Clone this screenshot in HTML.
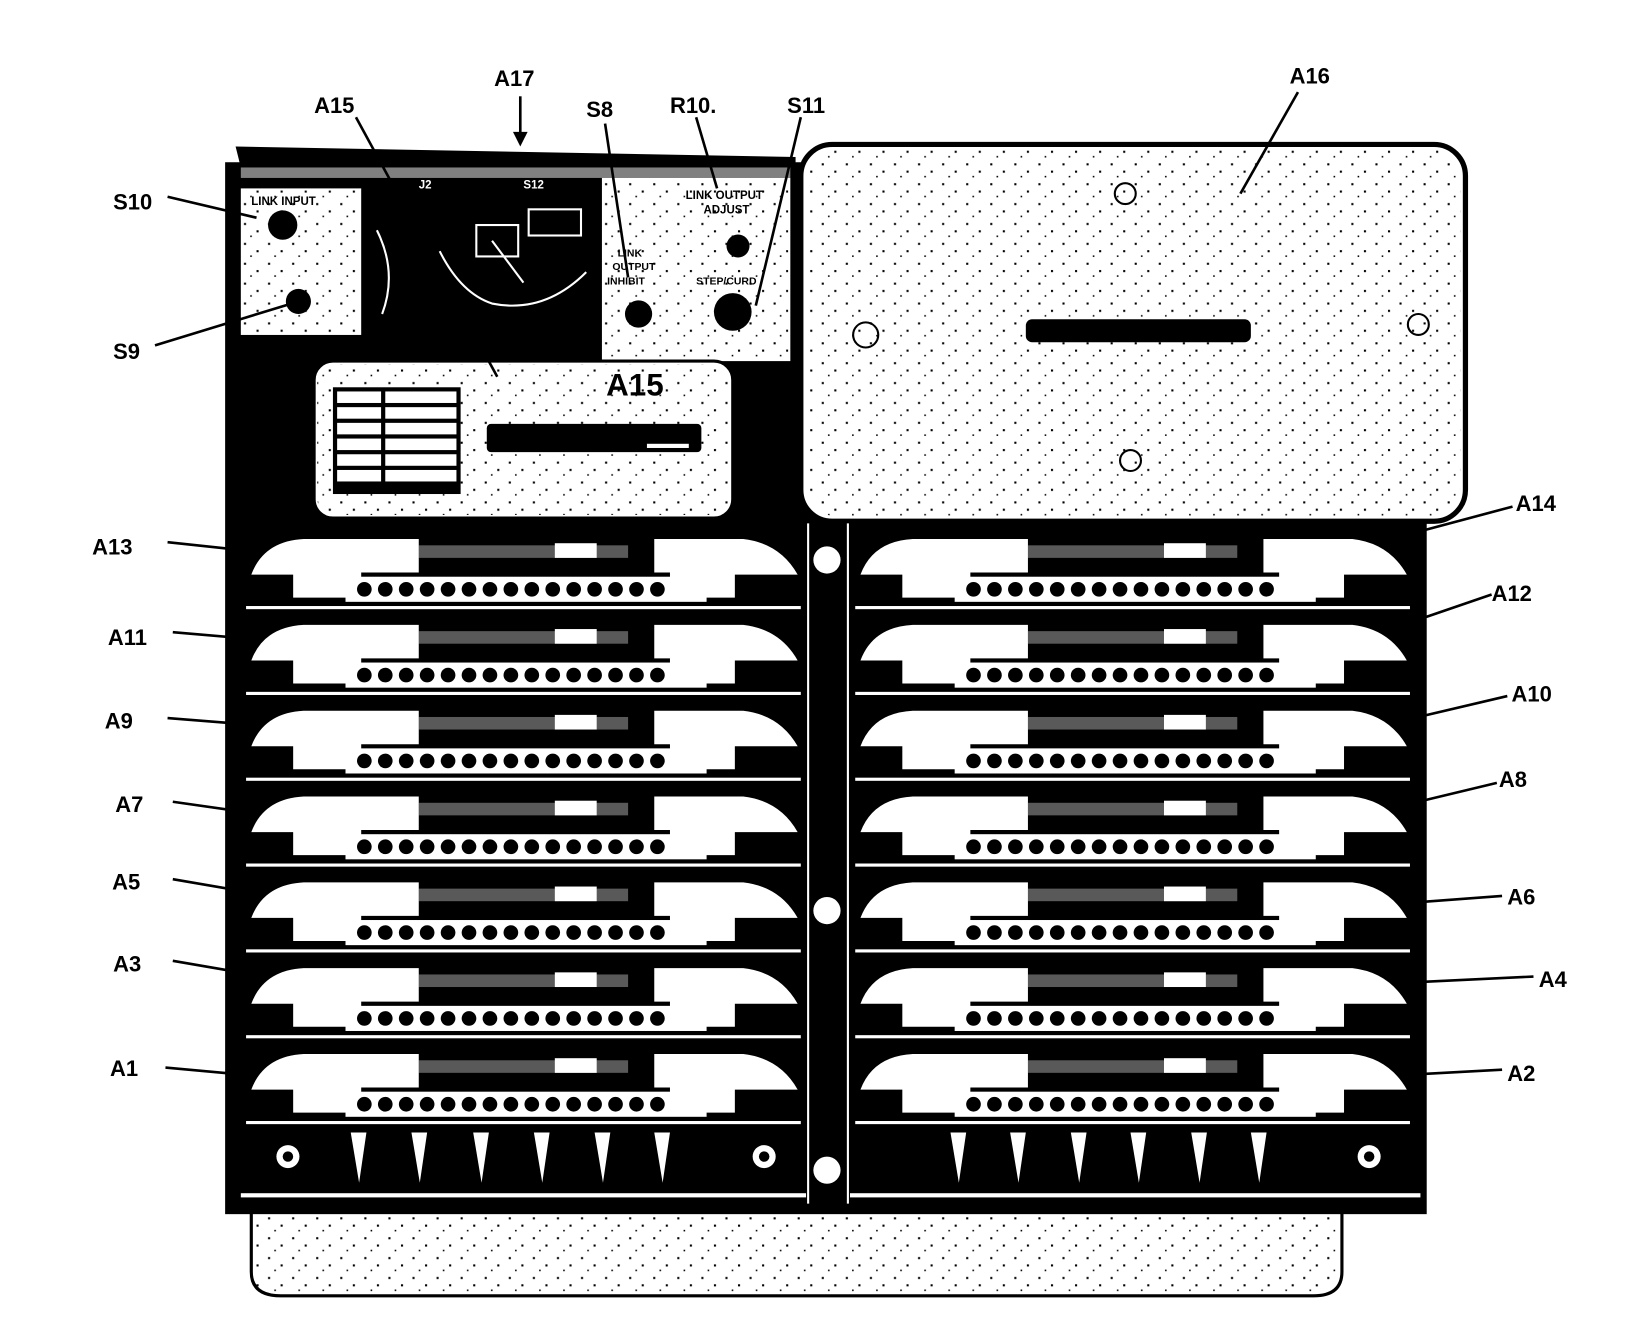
<!DOCTYPE html>
<html><head><meta charset="utf-8"><style>
html,body{margin:0;padding:0;background:#fff;}
svg{display:block;}
text{font-family:"Liberation Sans",sans-serif;font-weight:bold;fill:#000;}
</style></head><body>
<svg width="1633" height="1323" viewBox="0 0 1560 1264" xmlns="http://www.w3.org/2000/svg">
<defs>
<pattern id="dots" width="23" height="19" patternUnits="userSpaceOnUse">
<rect x="3" y="4" width="2" height="2" fill="#000"/><rect x="15" y="11" width="2" height="2" fill="#000"/><rect x="9" y="16" width="1.5" height="1.5" fill="#000"/>
</pattern>
<g id="row">
<rect x="0" y="0" width="540" height="82" fill="#000"/>
<path d="M10,44 Q22,12 60,10 L170,10 L170,42 L115,42 L115,66 L50,66 L50,44 Z" fill="#fff"/>
<path d="M395,10 L480,10 Q515,14 532,44 L472,44 L472,66 L410,66 L410,42 L395,42 Z" fill="#fff"/>
<rect x="100" y="46" width="345" height="24" fill="#fff"/>
<rect x="170" y="16" width="200" height="12" fill="#fff" opacity="0.35"/>
<rect x="300" y="14" width="40" height="14" fill="#fff"/>
<g fill="#000">
<circle cx="118" cy="58" r="7"/><circle cx="138" cy="58" r="7"/><circle cx="158" cy="58" r="7"/><circle cx="178" cy="58" r="7"/><circle cx="198" cy="58" r="7"/><circle cx="218" cy="58" r="7"/><circle cx="238" cy="58" r="7"/><circle cx="258" cy="58" r="7"/><circle cx="278" cy="58" r="7"/><circle cx="298" cy="58" r="7"/><circle cx="318" cy="58" r="7"/><circle cx="338" cy="58" r="7"/><circle cx="358" cy="58" r="7"/><circle cx="378" cy="58" r="7"/><circle cx="398" cy="58" r="7"/>
</g>
<rect x="5" y="74" width="530" height="3" fill="#fff"/>
</g>
</defs>

<path d="M240,1158 L1282,1158 L1282,1215 Q1282,1238 1255,1238 L268,1238 Q240,1238 240,1215 Z" fill="#fff" stroke="#000" stroke-width="3"/>
<rect x="243" y="1160" width="1036" height="76" fill="url(#dots)"/>

<rect x="215" y="155" width="1148" height="1005" fill="#000"/>
<path d="M225,140 L760,150 L760,160 L230,160 Z" fill="#000"/>

<rect x="765" y="138" width="635" height="360" rx="30" fill="#fff" stroke="#000" stroke-width="5"/>
<rect x="770" y="143" width="625" height="350" rx="28" fill="url(#dots)"/>
<rect x="980" y="305" width="215" height="22" rx="6" fill="#000"/>
<circle cx="827" cy="320" r="12" fill="none" stroke="#000" stroke-width="2"/>
<circle cx="1355" cy="310" r="10" fill="none" stroke="#000" stroke-width="2"/>
<circle cx="1075" cy="185" r="10" fill="none" stroke="#000" stroke-width="2"/>
<circle cx="1080" cy="440" r="10" fill="none" stroke="#000" stroke-width="2"/>

<rect x="230" y="180" width="115" height="140" fill="#fff"/>
<rect x="232" y="182" width="111" height="136" fill="url(#dots)"/>
<text x="240" y="196" font-size="11">LINK INPUT</text>
<circle cx="270" cy="215" r="14" fill="#000"/>
<circle cx="285" cy="288" r="12" fill="#000"/>
<rect x="575" y="170" width="180" height="175" fill="#fff"/>
<rect x="577" y="172" width="176" height="171" fill="url(#dots)"/>
<text x="655" y="190" font-size="11">LINK OUTPUT</text>
<text x="672" y="204" font-size="11">ADJUST</text>
<text x="590" y="245" font-size="10">LINK</text>
<text x="585" y="258" font-size="10">OUTPUT</text>
<text x="580" y="272" font-size="10">INHIBIT</text>
<text x="665" y="272" font-size="10">STEP/CURD</text>
<circle cx="705" cy="235" r="11" fill="#000"/>
<circle cx="610" cy="300" r="13" fill="#000"/>
<circle cx="700" cy="298" r="18" fill="#000"/>
<rect x="230" y="160" width="525" height="10" fill="#fff" opacity="0.5"/>
<text x="400" y="180" font-size="11" style="fill:#fff">J2</text>
<text x="500" y="180" font-size="11" style="fill:#fff">S12</text>
<text x="630" y="180" font-size="11" style="fill:#fff">C7</text>
<g stroke="#fff" stroke-width="2" fill="none">
<path d="M360,220 Q380,260 365,300"/><path d="M420,240 Q440,280 470,290 Q520,300 560,260"/><path d="M470,230 L500,270"/>
<rect x="455" y="215" width="40" height="30"/><rect x="505" y="200" width="50" height="25"/>
</g>

<rect x="300" y="345" width="400" height="150" rx="18" fill="#fff" stroke="#000" stroke-width="3"/>
<rect x="303" y="348" width="394" height="144" rx="16" fill="url(#dots)"/>
<rect x="318" y="370" width="122" height="102" fill="#000"/>
<g fill="#fff"><rect x="322" y="374" width="42" height="11"/><rect x="368" y="374" width="68" height="11"/>
<rect x="322" y="389" width="42" height="11"/><rect x="368" y="389" width="68" height="11"/>
<rect x="322" y="404" width="42" height="11"/><rect x="368" y="404" width="68" height="11"/>
<rect x="322" y="419" width="42" height="11"/><rect x="368" y="419" width="68" height="11"/>
<rect x="322" y="434" width="42" height="11"/><rect x="368" y="434" width="68" height="11"/>
<rect x="322" y="449" width="42" height="11"/><rect x="368" y="449" width="68" height="11"/></g>
<text x="579" y="378" font-size="30">A15</text>
<rect x="465" y="405" width="205" height="27" rx="4" fill="#000"/>
<rect x="618" y="424" width="40" height="4" fill="#fff"/>

<use href="#row" x="230" y="505"/>
<use href="#row" x="230" y="587"/>
<use href="#row" x="230" y="669"/>
<use href="#row" x="230" y="751"/>
<use href="#row" x="230" y="833"/>
<use href="#row" x="230" y="915"/>
<use href="#row" x="230" y="997"/>
<use href="#row" x="812" y="505"/>
<use href="#row" x="812" y="587"/>
<use href="#row" x="812" y="669"/>
<use href="#row" x="812" y="751"/>
<use href="#row" x="812" y="833"/>
<use href="#row" x="812" y="915"/>
<use href="#row" x="812" y="997"/>

<rect x="775" y="500" width="32" height="650" fill="#000"/>
<line x1="772" y1="500" x2="772" y2="1150" stroke="#fff" stroke-width="2"/>
<line x1="810" y1="500" x2="810" y2="1150" stroke="#fff" stroke-width="2"/>
<circle cx="790" cy="535" r="13" fill="#fff"/>
<circle cx="790" cy="870" r="13" fill="#fff"/>
<circle cx="790" cy="1118" r="13" fill="#fff"/>

<g fill="#fff">
<path d="M335,1082 L350,1082 L343,1130 Z"/><path d="M393,1082 L408,1082 L401,1130 Z"/><path d="M452,1082 L467,1082 L460,1130 Z"/><path d="M510,1082 L525,1082 L518,1130 Z"/><path d="M568,1082 L583,1082 L576,1130 Z"/><path d="M625,1082 L640,1082 L633,1130 Z"/>
<path d="M908,1082 L923,1082 L916,1130 Z"/><path d="M965,1082 L980,1082 L973,1130 Z"/><path d="M1023,1082 L1038,1082 L1031,1130 Z"/><path d="M1080,1082 L1095,1082 L1088,1130 Z"/><path d="M1138,1082 L1153,1082 L1146,1130 Z"/><path d="M1195,1082 L1210,1082 L1203,1130 Z"/>
<rect x="230" y="1140" width="540" height="4"/><rect x="812" y="1140" width="545" height="4"/>
</g>
<circle cx="275" cy="1105" r="11" fill="#fff"/><circle cx="730" cy="1105" r="11" fill="#fff"/><circle cx="1308" cy="1105" r="11" fill="#fff"/>
<circle cx="275" cy="1105" r="5" fill="#000"/><circle cx="730" cy="1105" r="5" fill="#000"/><circle cx="1308" cy="1105" r="5" fill="#000"/>

<g stroke="#000" stroke-width="2.5" fill="none">
<line x1="497" y1="92" x2="497" y2="135"/>
<line x1="1240" y1="88" x2="1185" y2="185"/>
<line x1="340" y1="112" x2="475" y2="360"/>
<line x1="578" y1="118" x2="600" y2="265"/>
<line x1="665" y1="112" x2="685" y2="180"/>
<line x1="765" y1="112" x2="722" y2="292"/>
<line x1="160" y1="188" x2="245" y2="208"/>
<line x1="148" y1="330" x2="285" y2="288"/>
<line x1="160" y1="518" x2="235" y2="526"/>
<line x1="165" y1="604" x2="235" y2="610"/>
<line x1="160" y1="686" x2="235" y2="692"/>
<line x1="165" y1="766" x2="235" y2="776"/>
<line x1="165" y1="840" x2="235" y2="852"/>
<line x1="165" y1="918" x2="235" y2="930"/>
<line x1="158" y1="1020" x2="235" y2="1027"/>
<line x1="1445" y1="484" x2="1355" y2="508"/>
<line x1="1425" y1="568" x2="1355" y2="592"/>
<line x1="1440" y1="665" x2="1355" y2="685"/>
<line x1="1430" y1="748" x2="1355" y2="766"/>
<line x1="1435" y1="856" x2="1355" y2="862"/>
<line x1="1465" y1="933" x2="1360" y2="938"/>
<line x1="1435" y1="1022" x2="1360" y2="1026"/>
</g>
<path d="M490,126 L504,126 L497,140 Z" fill="#000"/>
<g font-size="21">
<text x="472" y="82">A17</text>
<text x="1232" y="80">A16</text>
<text x="300" y="108">A15</text>
<text x="560" y="112">S8</text>
<text x="640" y="108">R10.</text>
<text x="752" y="108">S11</text>
<text x="108" y="200">S10</text>
<text x="108" y="343">S9</text>
<text x="88" y="530">A13</text>
<text x="103" y="616">A11</text>
<text x="100" y="696">A9</text>
<text x="110" y="776">A7</text>
<text x="107" y="850">A5</text>
<text x="108" y="928">A3</text>
<text x="105" y="1028">A1</text>
<text x="1448" y="488">A14</text>
<text x="1425" y="574">A12</text>
<text x="1444" y="670">A10</text>
<text x="1432" y="752">A8</text>
<text x="1440" y="864">A6</text>
<text x="1470" y="943">A4</text>
<text x="1440" y="1033">A2</text>
</g>
</svg>
</body></html>
